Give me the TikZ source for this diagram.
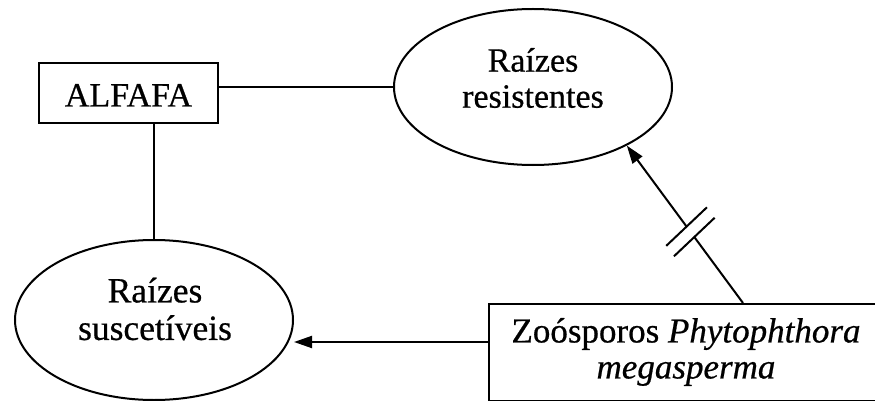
\documentclass[tikz,border=0pt]{standalone}
\usepackage{fontspec}
\setmainfont{Liberation Serif}[FakeBold=0.6]
\usetikzlibrary{shapes.geometric,arrows.meta,calc}
\begin{document}
\begin{tikzpicture}[x=1pt,y=-1pt,
  every node/.style={font=\fontsize{34}{36}\selectfont, inner sep=0pt},
  conn/.style={line width=2pt},
  headarrow/.style={-{Triangle[length=18pt,width=12pt]}},
  boxnode/.style={draw, rectangle, line width=2pt},
  oval/.style={draw, ellipse, line width=2pt},
  lbl/.style={align=center}]
\useasboundingbox (0,0) rectangle (875,401);
\clip (0,0) rectangle (875,401);
% nodes
\node[boxnode, minimum width=179pt, minimum height=60pt, text height=27pt, text depth=0pt] (alf) at (128.5,93) {ALFAFA};
\node[oval, minimum width=278pt, minimum height=156pt] (res) at (533,87) {};
\node[lbl] (resT) at (533,78) {Raízes\\resistentes};
\node[oval, minimum width=278pt, minimum height=160pt] (sus) at (154,320) {};
\node[lbl, font=\fontsize{35.5}{37.5}\selectfont] (susT) at (155,309) {Raízes\\suscetíveis};
\node[boxnode, minimum width=440pt, minimum height=97pt] (zoo) at (709,352) {};
\node[lbl, font=\fontsize{35}{36}\selectfont] (zooT) at (686,352) {Zoósporos \textit{Phytophthora}\\\textit{megasperma}};
% connectors
\draw[conn] (res.west) -- (res.west -| alf.east);
\draw[conn] (sus.north) -- (sus.north |- alf.south);
\coordinate (H) at ($(zoo.west)+(0,-10)$);
\draw[conn, headarrow] (H) -- (H -| sus.east);
\coordinate (D) at (743,303);
\coordinate (T) at (res.-32);
\coordinate (c2) at ($(D)!82pt!(T)$);
\coordinate (c1) at ($(D)!95pt!(T)$);
\draw[conn] (D) -- (c2);
\draw[conn, headarrow] (c1) -- (T);
\draw[conn] ($(c1)!28pt!97:(T)$) -- ($(c1)!28pt!-83:(T)$);
\draw[conn] ($(c2)!28pt!97:(T)$) -- ($(c2)!28pt!-83:(T)$);
\end{tikzpicture}
\end{document}
